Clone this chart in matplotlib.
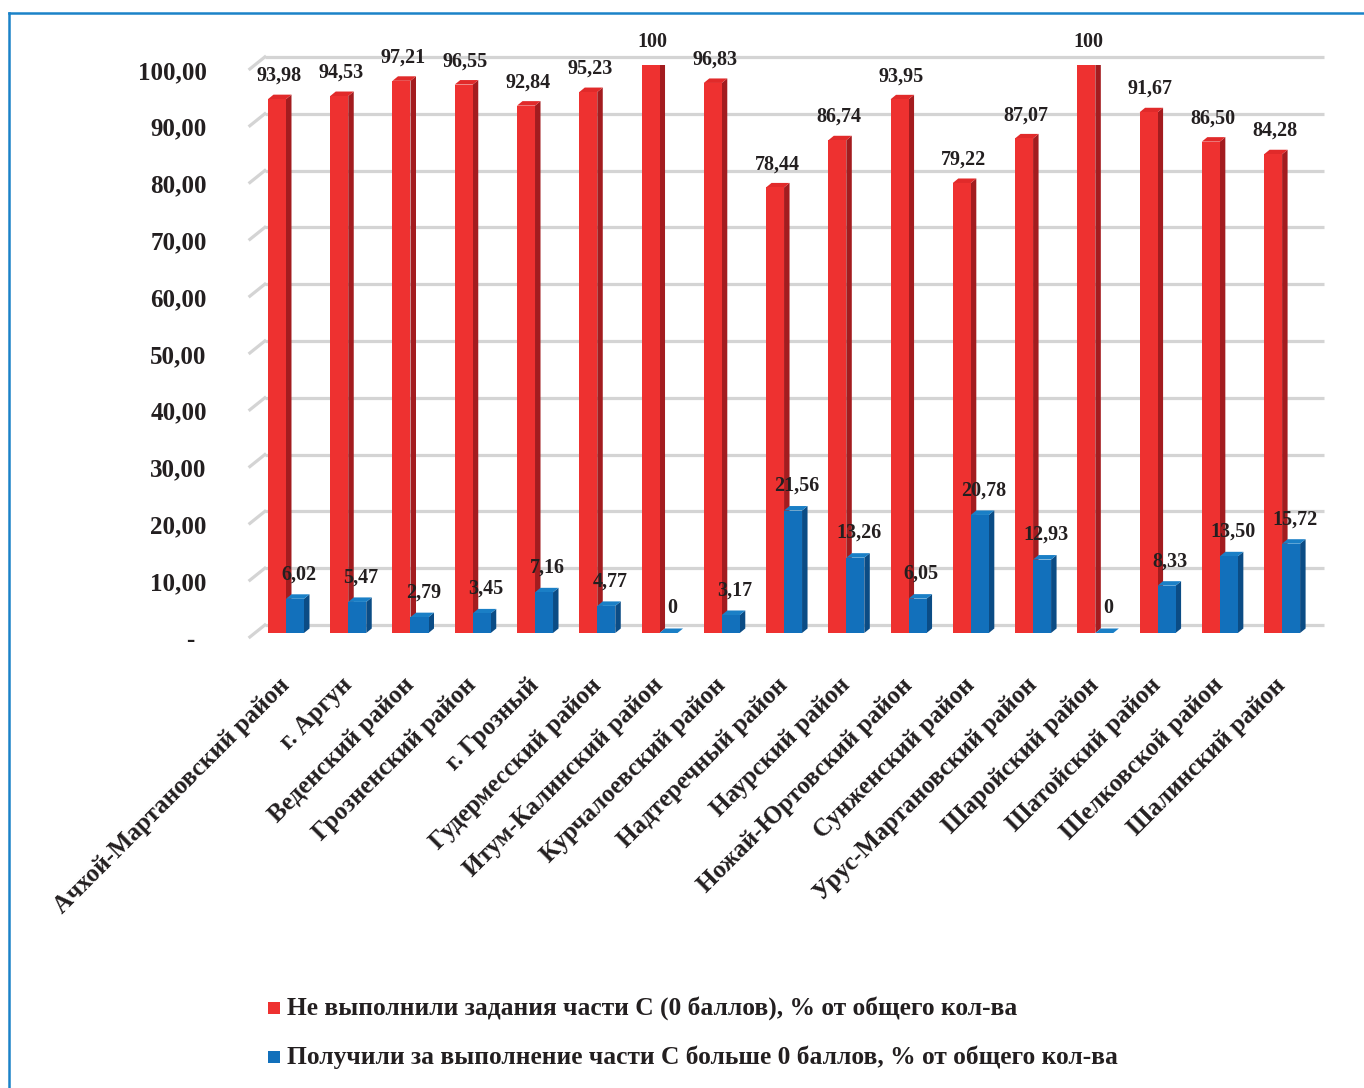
import numpy as np
import matplotlib
matplotlib.use('Agg')
import matplotlib.pyplot as plt
from matplotlib.patches import Polygon, Rectangle
from matplotlib.lines import Line2D
from matplotlib.transforms import ScaledTranslation

# data
districts = ['Ачхой-Мартановский район', 'г. Аргун', 'Веденский район',
             'Грозненский район', 'г. Грозный', 'Гудермесский район',
             'Итум-Калинский район', 'Курчалоевский район', 'Надтеречный район',
             'Наурский район', 'Ножай-Юртовский район', 'Сунженский район',
             'Урус-Мартановский район', 'Шаройский район', 'Шатойский район',
             'Шелковской район', 'Шалинский район']
zero_pts = [93.98, 94.53, 97.21, 96.55, 92.84, 95.23, 100, 96.83, 78.44,
            86.74, 93.95, 79.22, 87.07, 100, 91.67, 86.50, 84.28]
more_pts = [6.02, 5.47, 2.79, 3.45, 7.16, 4.77, 0, 3.17, 21.56,
            13.26, 6.05, 20.78, 12.93, 0, 8.33, 13.50, 15.72]
yticks = [0, 10, 20, 30, 40, 50, 60, 70, 80, 90, 100]
ytick_labels = ['-', '10,00', '20,00', '30,00', '40,00', '50,00',
                '60,00', '70,00', '80,00', '90,00', '100,00']
legend_labels = ['Не выполнили задания части С (0 баллов), % от общего кол-ва',
                 'Получили за выполнение части С больше 0 баллов, % от общего кол-ва']

def fmt(v):
    if v == 100 or v == 0:
        return '%d' % v
    return ('%.2f' % v).replace('.', ',')

FONT = 'Liberation Serif'
red = ('#ee3130', '#a31c1f', '#e12a2a')     # front, side, top
blue = ('#1270bb', '#0b4c85', '#1a7fc6')

fig = plt.figure(figsize=(13.64, 10.88), dpi=100)
ax = fig.add_axes([0.18, 0.4182, 0.7919, 0.5221])
ax.set_xlim(-0.65, 16.7)
ax.set_ylim(0, 100)

# px -> data scales
px_x = 1 / 62.25
px_y = 100 / 568.0
w = 18 * px_x
dx = 5.5 * px_x
dy = 4.5 * px_y

# grid (3d-like floor/back)
for v in yticks:
    ax.plot([-0.34, 16.67], [v + 8 * px_y] * 2, color='#d4d4d4', lw=2.3,
            zorder=0, clip_on=False, solid_capstyle='butt')
    ax.plot([-0.58, -0.34], [v - 4 * px_y, v + 8 * px_y], color='#d4d4d4',
            lw=2.3, zorder=0, clip_on=False)

x = np.arange(len(districts))

def bar3d(x0, v, cols, z):
    front, side, top = cols
    ax.add_patch(Polygon([(x0 + w, 0), (x0 + w + dx, dy), (x0 + w + dx, v + dy), (x0 + w, v)],
                         closed=True, facecolor=side, edgecolor='none', zorder=z))
    ax.add_patch(Polygon([(x0, v), (x0 + dx, v + dy), (x0 + w + dx, v + dy), (x0 + w, v)],
                         closed=True, facecolor=top, edgecolor='none', zorder=z))
    ax.add_patch(Rectangle((x0, 0), w, v, facecolor=front, edgecolor='none', zorder=z))

for i in range(len(x)):
    bar3d(x[i] - w, zero_pts[i], red, 2)
    bar3d(x[i], more_pts[i], blue, 3)
    ax.annotate(fmt(zero_pts[i]), (x[i] - w / 2 + 0.03, zero_pts[i]), xytext=(0, 9.5),
                textcoords='offset points', ha='center', va='bottom',
                fontsize=14.5, fontweight='bold', family=FONT, color='#231f20', zorder=5)
    ax.annotate(fmt(more_pts[i]), (x[i] + w / 2 + 0.06, more_pts[i]), xytext=(0, 10.5),
                textcoords='offset points', ha='center', va='bottom',
                fontsize=14.5, fontweight='bold', family=FONT, color='#231f20', zorder=5)

for s in ax.spines.values():
    s.set_visible(False)

ax.set_yticks(yticks)
ax.set_yticklabels(ytick_labels, fontsize=18, fontweight='bold', family=FONT, color='#231f20')
ax.tick_params(axis='y', length=0, pad=28)
for lab in ax.get_yticklabels():
    lab.set_transform(lab.get_transform() + ScaledTranslation(0, -0.05, fig.dpi_scale_trans))
ax.get_yticklabels()[0].set_transform(ax.get_yticklabels()[0].get_transform()
                                      + ScaledTranslation(-0.12, 0, fig.dpi_scale_trans))

ax.set_xticks(x)
ax.set_xticklabels(districts, fontsize=18, fontweight='bold', family=FONT, color='#231f20',
                   rotation=45, ha='right', va='center', rotation_mode='anchor')
ax.tick_params(axis='x', length=0, pad=35)

# legend
for k, (lab, col) in enumerate(zip(legend_labels, [red[0], blue[0]])):
    yc = 1 - (1008 + 49 * k) / 1088
    fig.add_artist(Rectangle((268 / 1364, yc - 6 / 1088), 12 / 1364, 12 / 1088,
                             transform=fig.transFigure, facecolor=col, edgecolor='none'))
    fig.text(287 / 1364, yc, lab, fontsize=18.4, fontweight='bold', family=FONT,
             color='#231f20', ha='left', va='center')

# frame
fig.add_artist(Line2D([9 / 1364, 1], [1 - 13 / 1088] * 2, color='#1b82c8', lw=1.8,
                      transform=fig.transFigure))
fig.add_artist(Line2D([9 / 1364, 9 / 1364], [0, 1 - 13 / 1088], color='#1b82c8', lw=1.8,
                      transform=fig.transFigure))

fig.savefig('out.png', dpi=100, facecolor='white')
